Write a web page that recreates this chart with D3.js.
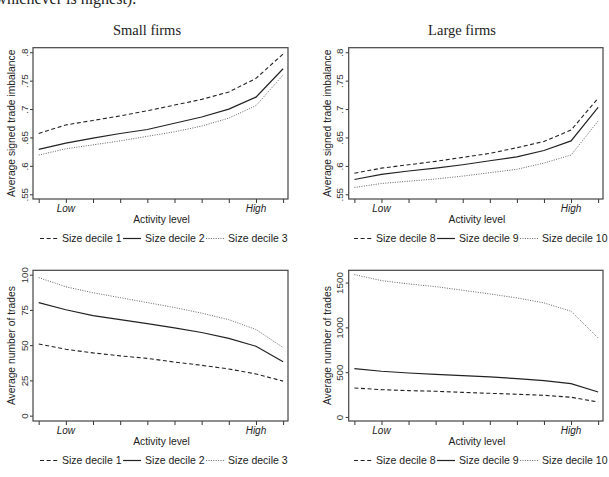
<!DOCTYPE html>
<html>
<head>
<meta charset="utf-8">
<script src="https://cdn.jsdelivr.net/npm/d3@7"></script>
<style>
  body { margin: 0; background: #fff; }
  svg { display: block; }
  .tick text { font-family: "Liberation Sans", Arial, sans-serif; }
</style>
</head>
<body>
<div id="chart"></div>
<script>
/* DATA */
var activity = [1, 2, 3, 4, 5, 6, 7, 8, 9, 10];
var activityLabels = {2: "Low", 9: "High"};

// top row: average signed trade imbalance
var imbDecile1  = [.657, .672, .680, .688, .697, .707, .717, .730, .754, .797];
var imbDecile2  = [.629, .640, .649, .657, .664, .675, .686, .700, .721, .771];
var imbDecile3  = [.619, .630, .637, .644, .652, .660, .670, .684, .706, .760];
var imbDecile8  = [.587, .596, .602, .608, .615, .622, .632, .643, .663, .719];
var imbDecile9  = [.576, .585, .591, .596, .602, .609, .616, .627, .644, .703];
var imbDecile10 = [.562, .569, .573, .577, .582, .588, .594, .605, .619, .679];
var imbTicks = [.55, .6, .65, .7, .75, .8];
var imbTickLabels = [".55", ".6", ".65", ".7", ".75", ".8"];

// bottom row: average number of trades
var nDecile1  = [50.8, 47.1, 44.5, 42.4, 40.6, 38.0, 35.7, 33.1, 29.6, 24.5];
var nDecile2  = [80.2, 75.1, 70.9, 68.1, 65.3, 62.2, 59.0, 54.8, 49.2, 38.2];
var nDecile3  = [97.9, 91.4, 87.2, 83.7, 80.2, 76.7, 72.7, 68.1, 61.1, 48.3];
var nDecile8  = [324, 305, 294, 287, 275, 264, 253, 242, 220, 167];
var nDecile9  = [540, 510, 491, 476, 461, 447, 428, 406, 372, 279];
var nDecile10 = [1589, 1522, 1485, 1455, 1414, 1373, 1329, 1273, 1180, 882];
var smallTradeTicks = [0, 25, 50, 75, 100];
var largeTradeTicks = [0, 500, 1000, 1500];

var smallNames = ["Size decile 1", "Size decile 2", "Size decile 3"];
var largeNames = ["Size decile 8", "Size decile 9", "Size decile 10"];

/* SVG */
var width = 609, height = 477;
var svg = d3.select("#chart").append("svg")
    .attr("width", width)
    .attr("height", height);

var sans = "'Liberation Sans', Arial, sans-serif";
var serif = "'Liberation Serif', 'Times New Roman', serif";

// line of text from the page above the figure, cut by the crop
svg.append("text")
    .attr("x", -10)
    .attr("y", 4)
    .attr("font-family", serif)
    .attr("font-size", 16)
    .attr("fill", "#222")
    .text("(whichever is highest).");

// panel titles
svg.append("text").attr("x", 147).attr("y", 35)
    .attr("text-anchor", "middle").attr("font-family", serif).attr("font-size", 14.5)
    .attr("fill", "#222").text("Small firms");
svg.append("text").attr("x", 462).attr("y", 35)
    .attr("text-anchor", "middle").attr("font-family", serif).attr("font-size", 14.5)
    .attr("fill", "#222").text("Large firms");

var styles = [
    {dash: "4,2.6", width: 1.1, color: "#222"},
    {dash: null, width: 1.2, color: "#222"},
    {dash: "1,1.4", width: 0.9, color: "#555"}
];

function drawPanel(p) {
    var g = svg.append("g");

    var x = d3.scaleLinear().domain([0.79, 10.18]).range([p.x0, p.x1]);
    var y = d3.scaleLinear().domain(p.yDomain).range([p.y1, p.y0]);

    // x axis (ticks below the frame)
    var xAxis = g.append("g")
        .attr("transform", "translate(0," + p.y1 + ")")
        .call(d3.axisBottom(x).tickValues(activity).tickSize(4).tickFormat(""));
    xAxis.select(".domain").remove();
    xAxis.selectAll("line").attr("stroke", "#333");

    // y axis (ticks left of the frame)
    var yAxis = g.append("g")
        .attr("transform", "translate(" + p.x0 + ",0)")
        .call(d3.axisLeft(y).tickValues(p.yTicks).tickSize(3).tickFormat(function(d, i) { return p.yLabels[i]; }));
    yAxis.select(".domain").remove();
    yAxis.selectAll("line").attr("stroke", "#333");
    yAxis.selectAll("text")
        .attr("font-size", 9.8)
        .attr("fill", "#333")
        .attr("x", 0).attr("dy", null)
        .attr("text-anchor", "middle")
        .attr("dominant-baseline", "central")
        .attr("transform", "translate(-9,0) rotate(-90)");

    // frame
    g.append("rect")
        .attr("x", p.x0).attr("y", p.y0)
        .attr("width", p.x1 - p.x0).attr("height", p.y1 - p.y0)
        .attr("fill", "none").attr("stroke", "#444").attr("stroke-width", 1.2);

    // Low / High
    activity.filter(function(a) { return activityLabels[a]; }).forEach(function(a) {
        g.append("text")
            .attr("x", x(a)).attr("y", p.y1 + 12.5)
            .attr("text-anchor", "middle")
            .attr("font-family", sans).attr("font-style", "italic").attr("font-size", 10)
            .attr("fill", "#222")
            .text(activityLabels[a]);
    });

    g.append("text")
        .attr("x", (p.x0 + p.x1) / 2 + 1).attr("y", p.y1 + 23.5)
        .attr("text-anchor", "middle")
        .attr("font-family", sans).attr("font-size", 10.3).attr("fill", "#222")
        .text("Activity level");

    g.append("text")
        .attr("transform", "translate(" + p.titleX + "," + ((p.y0 + p.y1) / 2) + ") rotate(-90)")
        .attr("text-anchor", "middle")
        .attr("dominant-baseline", "central")
        .attr("font-family", sans).attr("font-size", 10.3).attr("fill", "#222")
        .text(p.yTitle);

    // lines
    var line = d3.line()
        .x(function(d, i) { return x(activity[i]); })
        .y(function(d) { return y(d); });

    p.series.forEach(function(s, i) {
        g.append("path")
            .datum(s)
            .attr("d", line)
            .attr("fill", "none")
            .attr("stroke", styles[i].color)
            .attr("stroke-width", styles[i].width)
            .attr("stroke-dasharray", styles[i].dash);
    });

    // legend
    var lg = g.append("g");
    var cx = p.legendX;
    var ly = p.y1 + 43;
    p.names.forEach(function(name, i) {
        lg.append("line")
            .attr("x1", cx).attr("x2", cx + 18)
            .attr("y1", ly - 3.5).attr("y2", ly - 3.5)
            .attr("stroke", styles[i].color)
            .attr("stroke-width", styles[i].width)
            .attr("stroke-dasharray", styles[i].dash);
        cx += 22;
        var t = lg.append("text")
            .attr("x", cx).attr("y", ly)
            .attr("font-family", sans).attr("font-size", 10.5).attr("fill", "#222")
            .text(name);
        cx += t.node().getComputedTextLength() + 1.5;
    });
}

var left = {x0: 33, x1: 288}, right = {x0: 348.7, x1: 603};
var topRow = {y0: 47.7, y1: 199}, bottomRow = {y0: 270.3, y1: 421};

drawPanel({x0: left.x0, x1: left.x1, y0: topRow.y0, y1: topRow.y1,
    yDomain: [.5417, .808], yTicks: imbTicks, yLabels: imbTickLabels,
    yTitle: "Average signed trade imbalance", titleX: 11,
    series: [imbDecile1, imbDecile2, imbDecile3], names: smallNames, legendX: 40});

drawPanel({x0: right.x0, x1: right.x1, y0: topRow.y0, y1: topRow.y1,
    yDomain: [.5417, .808], yTicks: imbTicks, yLabels: imbTickLabels,
    yTitle: "Average signed trade imbalance", titleX: 327,
    series: [imbDecile8, imbDecile9, imbDecile10], names: largeNames, legendX: 354});

drawPanel({x0: left.x0, x1: left.x1, y0: bottomRow.y0, y1: bottomRow.y1,
    yDomain: [-3.8, 103.1], yTicks: smallTradeTicks, yLabels: smallTradeTicks.map(String),
    yTitle: "Average number of trades", titleX: 11.5,
    series: [nDecile1, nDecile2, nDecile3], names: smallNames, legendX: 40});

drawPanel({x0: right.x0, x1: right.x1, y0: bottomRow.y0, y1: bottomRow.y1,
    yDomain: [-45, 1637], yTicks: largeTradeTicks, yLabels: largeTradeTicks.map(String),
    yTitle: "Average number of trades", titleX: 327,
    series: [nDecile8, nDecile9, nDecile10], names: largeNames, legendX: 354});
</script>
</body>
</html>
